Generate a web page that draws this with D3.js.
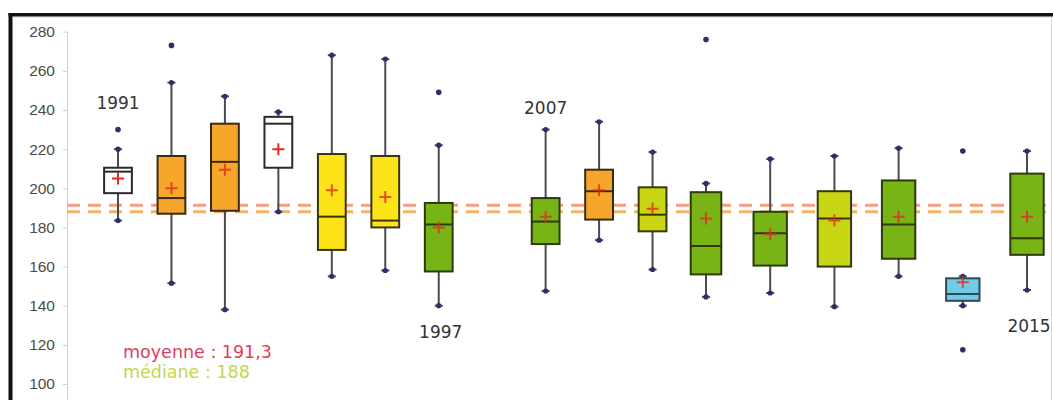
<!DOCTYPE html>
<html>
<head>
<meta charset="utf-8">
<script src="https://cdn.jsdelivr.net/npm/d3@7"></script>
<style>
  body { margin: 0; background: #fff; }
  svg { display: block; font-family: "DejaVu Sans", Verdana, sans-serif; }
</style>
</head>
<body>
<svg id="chart"></svg>
<script>
// one box per year, 1998-2006 missing
const years   = ['1991','1992','1993','1994','1995','1996','1997','2007','2008','2009','2010','2011','2012','2013','2014','2015'];
const lows    = [183.5, 151.5, 138, 188, 155, 158, 140, 147.5, 173.5, 158.5, 144.5, 146.5, 139.5, 155, 140, 148];
const q1s     = [197.5, 187, 188.5, 210.5, 168.5, 180, 157.5, 171.5, 184, 178, 156, 160.5, 160, 164, 142.5, 166];
const medians = [208.5, 195, 213.5, 233, 185.5, 183.5, 181.5, 183, 198.5, 186.5, 170.5, 177, 184.5, 181.5, 146, 174.5];
const q3s     = [210.5, 216.5, 233, 236.5, 217.5, 216.5, 192.5, 195, 209.5, 200.5, 198, 188, 198.5, 204, 154, 207.5];
const highs   = [220, 254, 247, 239, 268, 266, 222, 230, 234, 218.5, 202.5, 215, 216.5, 220.5, 155, 219];
const means   = [205, 200, 209.5, 220, 199, 195.5, 180, 185.5, 199, 189.5, 184.5, 176.5, 183.5, 185.5, 152, 185.5];
const outliers = [[230], [273], [], [], [], [], [249], [], [], [], [276], [], [], [], [219, 117.5], []];
const groups  = ['blanc','orange','orange','blanc','jaune','jaune','vert','vert','orange','vertjaune','vert','vert','vertjaune','vert','bleu','vert'];

const yTicks = [100, 120, 140, 160, 180, 200, 220, 240, 260, 280];
const overallMean = 191.3;
const overallMedian = 188;
const labelledYears = ['1991', '1997', '2007', '2015'];

const W = 1053, H = 400;

const svg = d3.select('#chart').attr('width', W).attr('height', H);

// frame (screenshot border)
svg.append('rect').attr('x', 8.5).attr('y', 13).attr('width', W - 8.5).attr('height', 3.5).attr('fill', '#111');
svg.append('rect').attr('x', 8.5).attr('y', 13).attr('width', 4).attr('height', H - 13).attr('fill', '#111');
svg.append('line').attr('x1', 12.5).attr('x2', W).attr('y1', 17.5).attr('y2', 17.5).attr('stroke', '#e6e6e6');
svg.append('line').attr('x1', W - 1.5).attr('x2', W - 1.5).attr('y1', 17).attr('y2', H).attr('stroke', '#d8d8d8');

// slots: one empty slot between 1997 and 2007
const slots = [...years.slice(0, 7), '', ...years.slice(7)];
const slotOf = (yr) => slots.indexOf(yr);

const x = d3.scaleLinear().domain([0, 11, 16]).range([118, 706, 1027]);
const y = d3.scaleLinear().domain([100, 280]).range([384, 31.7]);

const boxWidth = (i) => 0.52 * (x(i + 0.5) - x(i - 0.5));

const fill = d3.scaleOrdinal()
    .domain(['blanc','orange','jaune','vert','vertjaune','bleu'])
    .range(['#ffffff', '#f6a62a', '#fde419', '#79b416', '#c8d512', '#70cbe4']);
const edge = d3.scaleOrdinal()
    .domain(['blanc','orange','jaune','vert','vertjaune','bleu'])
    .range(['#2a2a2a', '#3a2a10', '#3a3410', '#2c3a0c', '#34380c', '#2e4a58']);

// y axis
const yAxis = svg.append('g')
    .attr('transform', 'translate(67,0)')
    .call(d3.axisLeft(y).tickValues(yTicks).tickSize(4).tickSizeOuter(0).tickPadding(8));
yAxis.select('.domain').attr('stroke', '#d0d0d0').attr('d', `M0.5,${y(280)}V${H}`);
yAxis.selectAll('.tick line').attr('stroke', '#d0d0d0');
yAxis.selectAll('.tick text')
    .attr('fill', '#4a4a4a')
    .style('font-size', '15.5px');

// overall mean / median dashed lines
svg.append('line')
    .attr('x1', 67).attr('x2', W)
    .attr('y1', y(overallMean)).attr('y2', y(overallMean))
    .attr('stroke', '#f3a184').attr('stroke-width', 3)
    .attr('stroke-dasharray', '13,8');
svg.append('line')
    .attr('x1', 67).attr('x2', W)
    .attr('y1', y(overallMedian)).attr('y2', y(overallMedian))
    .attr('stroke', '#f1b466').attr('stroke-width', 3)
    .attr('stroke-dasharray', '13,8');

const data = years.map((yr, i) => ({
    year: yr, slot: slotOf(yr), lo: lows[i], q1: q1s[i], med: medians[i],
    q3: q3s[i], hi: highs[i], mean: means[i], out: outliers[i], group: groups[i]
}));

const box = svg.selectAll('.box')
    .data(data)
    .enter()
    .append('g')
    .classed('box', true)
    .attr('transform', (d) => `translate(${x(d.slot)},0)`);

// whiskers
box.append('line')
    .attr('x1', 0).attr('x2', 0)
    .attr('y1', (d) => y(d.hi)).attr('y2', (d) => y(d.lo))
    .attr('stroke', '#4a4a52').attr('stroke-width', 2);

['hi', 'lo'].forEach((k) => {
    box.append('line')
        .attr('x1', -4).attr('x2', 4)
        .attr('y1', (d) => y(d[k])).attr('y2', (d) => y(d[k]))
        .attr('stroke', '#4a4a52').attr('stroke-width', 2);
    box.append('circle')
        .attr('r', 2.6)
        .attr('cy', (d) => y(d[k]))
        .attr('fill', '#2e2e6e');
});

// boxes
box.append('rect')
    .attr('x', (d) => -boxWidth(d.slot) / 2)
    .attr('width', (d) => boxWidth(d.slot))
    .attr('y', (d) => y(d.q3))
    .attr('height', (d) => y(d.q1) - y(d.q3))
    .attr('fill', (d) => fill(d.group))
    .attr('stroke', (d) => edge(d.group))
    .attr('stroke-width', 2);

// medians
box.append('line')
    .attr('x1', (d) => -boxWidth(d.slot) / 2).attr('x2', (d) => boxWidth(d.slot) / 2)
    .attr('y1', (d) => y(d.med)).attr('y2', (d) => y(d.med))
    .attr('stroke', (d) => edge(d.group)).attr('stroke-width', 2);

// means (+)
box.append('path')
    .attr('d', (d) => `M-6,${y(d.mean)}H6M0,${y(d.mean) - 6}V${y(d.mean) + 6}`)
    .attr('stroke', '#e42a22').attr('stroke-width', 2)
    .attr('stroke-opacity', (d) => d.group === 'blanc' ? 1 : 0.8)
    .attr('fill', 'none');

// outliers
box.selectAll('.outlier')
    .data((d) => d.out)
    .enter()
    .append('circle')
    .classed('outlier', true)
    .attr('r', 2.8)
    .attr('cy', (v) => y(v))
    .attr('fill', '#2e2e6e');

// year labels
box.filter((d) => labelledYears.includes(d.year) && (d.year === '1991' || d.year === '2007'))
    .append('text')
    .attr('text-anchor', 'middle')
    .attr('y', (d) => y(d3.max([d.hi, ...d.out])) - (d.year === '1991' ? 21 : 16))
    .attr('fill', '#333')
    .style('font-size', '17px')
    .text((d) => d.year);

box.filter((d) => labelledYears.includes(d.year) && (d.year === '1997' || d.year === '2015'))
    .append('text')
    .attr('text-anchor', 'middle')
    .attr('x', 2)
    .attr('y', (d) => y(d.year === '1997' ? 140 : 148) + (d.year === '1997' ? 32 : 42))
    .attr('fill', '#333')
    .style('font-size', '17px')
    .text((d) => d.year);

// legend
svg.append('text')
    .attr('x', 123).attr('y', 358)
    .attr('fill', '#e0405a')
    .style('font-size', '17.5px')
    .text(`moyenne : ${String(overallMean).replace('.', ',')}`);
svg.append('text')
    .attr('x', 123).attr('y', 378)
    .attr('fill', '#c2d650')
    .style('font-size', '17.5px')
    .text(`médiane : ${overallMedian}`);
</script>
</body>
</html>
